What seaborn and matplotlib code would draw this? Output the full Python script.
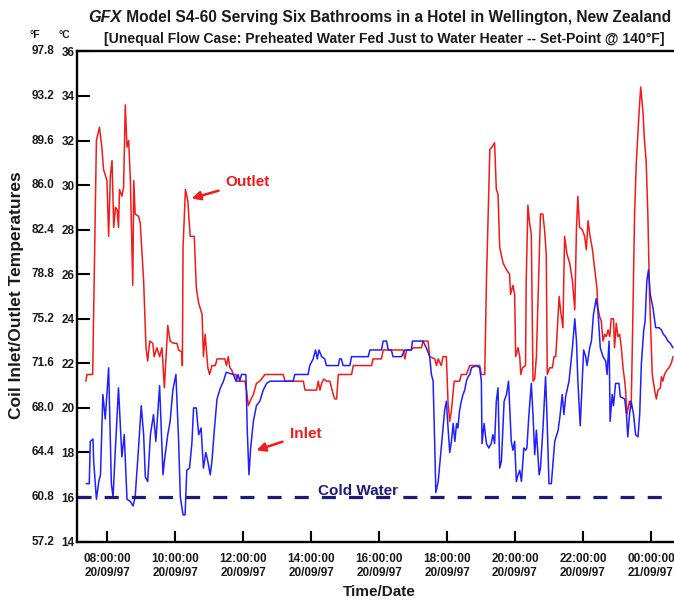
import numpy as np
import pandas as pd
import matplotlib
matplotlib.use("Agg")
import matplotlib.pyplot as plt
import matplotlib.dates as mdates
from matplotlib import font_manager
import seaborn as sns

# ---------------- data (hours after midnight 20/09/97, temperatures in °C) -------------
outlet_hours = [
    7.37, 7.40, 7.57, 7.68, 7.77, 7.84, 7.89, 7.99, 8.04, 8.09,
    8.14, 8.19, 8.24, 8.29, 8.33, 8.36, 8.43, 8.48, 8.53, 8.58,
    8.63, 8.68, 8.75, 8.78, 8.82, 8.92, 8.97, 9.07, 9.14, 9.19,
    9.25, 9.34, 9.38, 9.46, 9.54, 9.61, 9.68, 9.78, 9.85, 9.95,
    10.05, 10.10, 10.20, 10.21, 10.23, 10.30, 10.37, 10.44, 10.56, 10.62,
    10.69, 10.79, 10.83, 10.88, 10.96, 11.01, 11.08, 11.18, 11.23,
    11.32, 11.46, 11.51, 11.56, 11.61, 11.66, 11.71, 11.79, 11.81, 12.05,
    12.10, 12.15, 12.20, 12.30, 12.39, 12.49, 12.59, 12.64, 13.18, 13.23,
    13.77, 13.82, 14.16, 14.21, 14.26, 14.31, 14.37, 14.45, 14.55, 14.65,
    14.70, 14.75, 14.80, 15.19, 15.24,
    15.78, 15.82, 16.07, 16.12, 16.71, 16.76, 16.81, 16.95, 17.00, 17.25,
    17.29, 17.44, 17.49, 17.64, 17.69, 17.74, 17.83, 17.88, 17.98, 18.03,
    18.08, 18.13, 18.21, 18.37, 18.42, 18.57, 18.67, 18.96, 19.01, 19.11,
    19.16, 19.26, 19.32, 19.40, 19.45, 19.50, 19.55, 19.65, 19.75, 19.84,
    19.87, 19.94, 19.99, 20.02, 20.09, 20.14, 20.17, 20.22, 20.31, 20.33,
    20.38, 20.43, 20.48, 20.53, 20.58, 20.63, 20.71, 20.75, 20.82, 20.87,
    20.92, 20.95, 21.02, 21.10, 21.15, 21.20, 21.27, 21.30, 21.34, 21.41,
    21.46, 21.53, 21.61, 21.69, 21.76, 21.81, 21.85, 21.90, 21.98, 22.05,
    22.10, 22.15, 22.20, 22.28, 22.34, 22.41, 22.44, 22.49, 22.54, 22.59,
    22.64, 22.69, 22.74, 22.79, 22.83, 22.90, 22.93, 22.98, 23.03, 23.08,
    23.13, 23.18, 23.23, 23.26, 23.29, 23.37, 23.42, 23.47, 23.52, 23.57,
    23.65, 23.70, 23.77, 23.81, 23.86, 23.91, 23.96, 24.04, 24.11, 24.16,
    24.21, 24.28, 24.31, 24.35, 24.40, 24.47, 24.53, 24.60, 24.65,
]
outlet_temp_c = [
    21.2, 21.5, 21.5, 32.0, 32.6, 31.7, 30.7, 30.2, 27.7, 30.4,
    31.1, 28.1, 29.0, 28.9, 28.1, 29.8, 29.5, 29.9, 33.6, 31.7,
    32.0, 30.2, 25.5, 30.2, 28.7, 28.6, 28.3, 25.7, 22.7, 22.1,
    23.0, 22.9, 22.3, 22.7, 22.3, 22.7, 20.9, 23.7, 23.0, 22.9,
    22.9, 22.6, 22.5, 21.9, 27.2, 29.8, 29.3, 27.7, 27.7, 25.4,
    24.7, 24.2, 22.3, 23.3, 21.8, 21.5, 21.9, 21.9, 22.2,
    22.2, 22.2, 21.9, 22.3, 21.8, 21.7, 21.5, 21.5, 21.2, 21.2,
    20.8, 20.1, 20.3, 20.6, 21.1, 21.2, 21.4, 21.5, 21.5, 21.2,
    21.2, 20.8, 20.8, 21.2, 20.8, 21.1, 21.3, 21.2, 21.2, 20.6,
    20.4, 20.4, 21.5, 21.5, 21.9,
    21.9, 22.2, 22.2, 22.6, 22.6, 22.2, 22.6, 22.6, 22.7, 22.7,
    23.0, 23.0, 22.3, 22.2, 21.9, 22.2, 21.9, 22.3, 22.3, 20.2,
    19.4, 19.9, 21.2, 21.2, 21.5, 21.5, 21.9, 21.9, 21.5, 21.5,
    25.7, 31.6, 31.7, 31.9, 29.8, 29.6, 27.2, 26.5, 26.2, 26.0,
    25.1, 25.5, 25.1, 22.3, 22.7, 22.3, 21.5, 21.8, 21.9, 25.7,
    29.1, 28.3, 27.8, 21.2, 21.3, 22.3, 26.5, 28.7, 28.7, 28.0,
    26.9, 21.5, 21.8, 21.8, 22.3, 22.3, 24.2, 25.0, 24.4, 23.6,
    27.7, 26.9, 26.5, 25.7, 24.4, 28.1, 29.5, 28.1, 28.0, 27.7,
    27.1, 28.4, 27.8, 27.1, 26.3, 25.4, 24.5, 24.1, 23.9, 23.0,
    23.3, 23.2, 23.5, 23.2, 24.0, 24.0, 22.7, 23.8, 23.2, 23.3,
    22.7, 21.8, 21.2, 20.7, 19.7, 20.3, 20.0, 24.2, 28.7, 31.0,
    33.2, 34.4, 33.2, 32.0, 31.1, 28.7, 25.1, 21.5, 20.8, 20.4,
    20.8, 20.9, 21.4, 21.2, 21.5, 21.7, 21.8, 22.0, 22.3,
]

inlet_hours = [
    7.38, 7.47, 7.50, 7.58, 7.60, 7.68, 7.75, 7.80, 7.87, 7.94,
    8.04, 8.12, 8.17, 8.24, 8.33, 8.43, 8.50, 8.58, 8.68, 8.76,
    8.82, 8.92, 9.00, 9.07, 9.12, 9.19, 9.27, 9.36, 9.43, 9.54,
    9.64, 9.68, 9.78, 9.85, 9.93, 10.02, 10.10, 10.15, 10.23, 10.29,
    10.34, 10.42, 10.49, 10.54, 10.62, 10.69, 10.76, 10.83, 10.90, 10.96,
    11.03, 11.08, 11.15, 11.23, 11.33, 11.42, 11.50,
    11.71, 11.79, 11.85, 11.90, 11.95, 12.08, 12.12, 12.17, 12.22, 12.30,
    12.39, 12.49, 12.59, 12.69, 12.79, 13.47, 13.52, 13.67, 13.91, 13.96,
    14.06, 14.13, 14.18, 14.23, 14.31, 14.40, 14.45, 14.80, 14.84, 14.89,
    14.94, 15.14, 15.19, 15.68,
    15.73, 16.07, 16.12, 16.22, 16.27, 16.36, 16.41, 16.66, 16.76, 16.95,
    16.98, 17.29, 17.39, 17.49, 17.54, 17.59, 17.64, 17.67, 17.74, 17.83,
    17.93, 17.98, 18.03, 18.08, 18.13, 18.18, 18.23, 18.28, 18.32, 18.37,
    18.42, 18.47, 18.52, 18.57, 18.62, 18.67, 18.72, 18.86, 18.96, 19.01,
    19.03, 19.09, 19.16, 19.23, 19.30, 19.35, 19.40, 19.45, 19.50, 19.55,
    19.60, 19.68, 19.75, 19.81,
    19.89, 19.94, 19.99, 20.04, 20.09, 20.14, 20.19, 20.26, 20.31, 20.35,
    20.41, 20.48, 20.53, 20.58, 20.63, 20.71, 20.75, 20.82, 20.90, 20.94,
    21.00, 21.07, 21.17, 21.27, 21.33, 21.39, 21.44, 21.49, 21.59, 21.69,
    21.76, 21.81, 21.85, 21.92, 21.98, 22.02, 22.08, 22.12, 22.20, 22.25,
    22.31, 22.39, 22.44, 22.51, 22.59, 22.67, 22.71, 22.77, 22.80, 22.86,
    22.90, 22.96, 23.06, 23.10, 23.23, 23.28, 23.32, 23.37, 23.42, 23.49,
    23.55, 23.62, 23.67, 23.72, 23.79, 23.83, 23.88, 23.93, 23.98, 24.06,
    24.14, 24.24, 24.31, 24.37, 24.43, 24.50, 24.57, 24.65,
]
inlet_temp_c = [
    16.6, 16.6, 18.5, 18.6, 17.6, 15.9, 16.7, 17.0, 20.6, 19.5,
    21.8, 16.6, 16.0, 18.2, 20.9, 17.8, 18.8, 15.9, 15.8, 15.6,
    16.0, 18.2, 20.1, 18.8, 16.9, 16.7, 18.8, 19.7, 18.5, 21.0,
    17.0, 17.6, 18.8, 19.4, 20.8, 21.5, 18.5, 16.0, 15.2, 15.2,
    17.2, 17.3, 18.4, 20.0, 20.0, 18.8, 19.1, 17.3, 18.0, 17.6,
    17.0, 17.6, 19.0, 20.4, 20.9, 21.2, 21.6,
    21.5, 21.2, 21.5, 21.2, 21.5, 21.5, 19.0, 17.0, 18.2, 19.4,
    20.1, 20.3, 20.8, 21.1, 21.2, 21.2, 21.5, 21.5, 21.5, 21.9,
    22.2, 22.6, 22.2, 22.6, 22.3, 22.2, 21.9, 21.9, 22.2, 22.2,
    21.9, 21.9, 22.3, 22.3,
    22.6, 22.6, 23.0, 23.0, 22.6, 22.6, 22.3, 22.3, 22.6, 22.6,
    23.0, 23.0, 22.7, 22.3, 21.5, 21.2, 18.2, 16.2, 16.7, 18.2,
    19.9, 20.3, 19.1, 18.0, 18.5, 19.3, 18.5, 19.3, 19.1, 19.9,
    20.3, 20.6, 20.8, 21.2, 21.4, 21.5, 21.8, 21.9, 21.8, 21.2,
    18.4, 19.3, 18.4, 18.2, 18.4, 18.8, 18.4, 20.3, 20.9, 17.3,
    17.6, 20.3, 20.6, 21.2,
    18.5, 18.1, 18.5, 16.7, 17.0, 17.2, 16.7, 18.2, 18.1, 18.2,
    19.7, 21.1, 19.7, 17.9, 19.0, 17.0, 17.3, 19.0, 21.4, 19.7,
    16.6, 16.6, 18.5, 19.0, 19.7, 20.6, 19.7, 20.5, 21.2, 22.7,
    24.0, 23.0, 21.2, 19.2, 21.2, 22.6, 22.3, 21.9, 22.7, 23.0,
    24.2, 24.9, 24.4, 22.7, 22.3, 22.1, 21.5, 23.0, 19.4, 20.6,
    20.1, 21.1, 21.1, 20.5, 20.4, 19.7, 18.7, 19.7, 20.3, 19.7,
    18.8, 18.7, 19.7, 22.0, 23.5, 23.9, 25.7, 26.2, 25.1, 24.5,
    23.6, 23.6, 23.5, 23.3, 23.2, 23.0, 22.9, 22.7,
]

cold_water_c = 16.0

y_ticks_c = [14, 16, 18, 20, 22, 24, 26, 28, 30, 32, 34, 36]
y_labels_f = ["57.2", "60.8", "64.4", "68.0", "71.6", "75.2",
              "78.8", "82.4", "86.0", "89.6", "93.2", "97.8"]
x_tick_hours = [8, 10, 12, 14, 16, 18, 20, 22, 24]
x_tick_labels = ["08:00:00\n20/09/97", "10:00:00\n20/09/97", "12:00:00\n20/09/97",
                 "14:00:00\n20/09/97", "16:00:00\n20/09/97", "18:00:00\n20/09/97",
                 "20:00:00\n20/09/97", "22:00:00\n20/09/97", "00:00:00\n21/09/97"]

title_main = "GFX"
title_rest = " Model S4-60 Serving Six Bathrooms in a Hotel in Wellington, New Zealand"
subtitle = "[Unequal Flow Case: Preheated Water Fed Just to Water Heater -- Set-Point @ 140°F]"

# ---------------- styling ----------------
sns.set_theme(style="white")
names = {f.name for f in font_manager.fontManager.ttflist}
base_font = "Liberation Sans" if "Liberation Sans" in names else "DejaVu Sans"
plt.rcParams["font.family"] = [base_font, "DejaVu Sans"]

RED = "#f21a1a"
BLUE = "#1f1fff"
NAVY = "#1c1c78"
TXT = "#1a1a1a"

base_day = pd.Timestamp("1997-09-20")


def to_time(hours):
    return base_day + pd.to_timedelta(np.asarray(hours, dtype=float), unit="h")


def xnum(h):
    return mdates.date2num(to_time([h]))[0]


outlet_df = pd.DataFrame({"time": to_time(outlet_hours), "temp": outlet_temp_c})
inlet_df = pd.DataFrame({"time": to_time(inlet_hours), "temp": inlet_temp_c})

W, H = 674, 601
fig = plt.figure(figsize=(W / 100, H / 100), dpi=100)
ax_left, ax_bottom_px, ax_top_px = 76.7, 541.6, 51.4
ax = fig.add_axes([ax_left / W, 1 - ax_bottom_px / H,
                   (W - ax_left) / W, (ax_bottom_px - ax_top_px) / H])
ax.set_facecolor("white")

sns.lineplot(data=outlet_df, x="time", y="temp", sort=False, estimator=None,
             color=RED, lw=1.1, ax=ax)
sns.lineplot(data=inlet_df, x="time", y="temp", sort=False, estimator=None,
             color=BLUE, lw=1.1, ax=ax)
ax.axhline(cold_water_c, color=NAVY, lw=2.3, linestyle=(0, (4.4, 4.1)))

ax.set_xlim(xnum(7.10), xnum(24.68))
ax.set_ylim(14, 36)
ax.set_yticks(y_ticks_c)
ax.set_yticklabels([str(v) for v in y_ticks_c])
ax.set_xticks([xnum(h) for h in x_tick_hours])
ax.set_xticklabels(x_tick_labels)
ax.set_xlabel("")
ax.set_ylabel("")

for s in ["left", "bottom", "top"]:
    ax.spines[s].set_visible(True)
    ax.spines[s].set_color("black")
    ax.spines[s].set_linewidth(1.7)
ax.spines["right"].set_visible(False)

ax.tick_params(axis="y", direction="in", length=9, width=1.5, color="black",
               pad=1.5, labelsize=8.5, labelcolor=TXT, left=True)
ax.tick_params(axis="x", direction="in", length=8, width=1.5, color="black",
               pad=8, labelsize=8.5, labelcolor=TXT, bottom=True)
for lbl in ax.get_yticklabels():
    lbl.set_fontweight("bold")
for lbl in ax.get_xticklabels():
    lbl.set_fontweight("bold")
    lbl.set_linespacing(1.3)

# Fahrenheit column
ytrans = ax.get_yaxis_transform()
for c, f in zip(y_ticks_c, y_labels_f):
    ax.text(-0.038, c, f, transform=ytrans, ha="right", va="center",
            fontsize=8.5, fontweight="bold", color=TXT)
fig.text(35 / W, 1 - 35 / H, "°F", ha="center", va="center", fontsize=7.5,
         fontweight="bold", color=TXT)
fig.text(64 / W, 1 - 35 / H, "°C", ha="center", va="center", fontsize=7.5,
         fontweight="bold", color=TXT)

# axis labels
fig.text(17 / W, 1 - 295 / H, "Coil Inlet/Outlet Temperatures", rotation=90,
         ha="center", va="center", fontsize=12.5, fontweight="bold", color=TXT)
fig.text(379 / W, 1 - 592 / H, "Time/Date", ha="center", va="center",
         fontsize=11, fontweight="bold", color=TXT)

# titles (right end of the title sits at the right edge of the picture)
t_rest = fig.text(671 / W, 1 - 25 / H, title_rest, ha="right", va="bottom",
                  fontsize=11.2, fontweight="bold", color=TXT)
ax.annotate(title_main, xy=(0, 0), xycoords=t_rest, ha="right", va="bottom",
            fontsize=11.7, fontweight="bold", fontstyle="italic",
            color=TXT, annotation_clip=False)
fig.text(384 / W, 1 - 39 / H, subtitle, ha="center", va="center",
         fontsize=10.1, fontweight="bold", color=TXT)

# annotations
ax.annotate("Outlet", xy=(xnum(10.48), 29.40), xytext=(xnum(11.49), 30.13),
            ha="left", va="center", fontsize=11, fontweight="bold", color=RED,
            arrowprops=dict(arrowstyle="-|>", color=RED, lw=1.8,
                            mutation_scale=13, shrinkA=3, shrinkB=0))
ax.annotate("Inlet", xy=(xnum(12.39), 18.10), xytext=(xnum(13.37), 18.82),
            ha="left", va="center", fontsize=11, fontweight="bold", color=RED,
            arrowprops=dict(arrowstyle="-|>", color=RED, lw=1.8,
                            mutation_scale=13, shrinkA=3, shrinkB=0))
ax.text(xnum(15.37), 16.08, "Cold Water", ha="center", va="baseline",
        fontsize=11, fontweight="bold", color=NAVY)

fig.savefig("out.png", dpi=100, facecolor="white")
